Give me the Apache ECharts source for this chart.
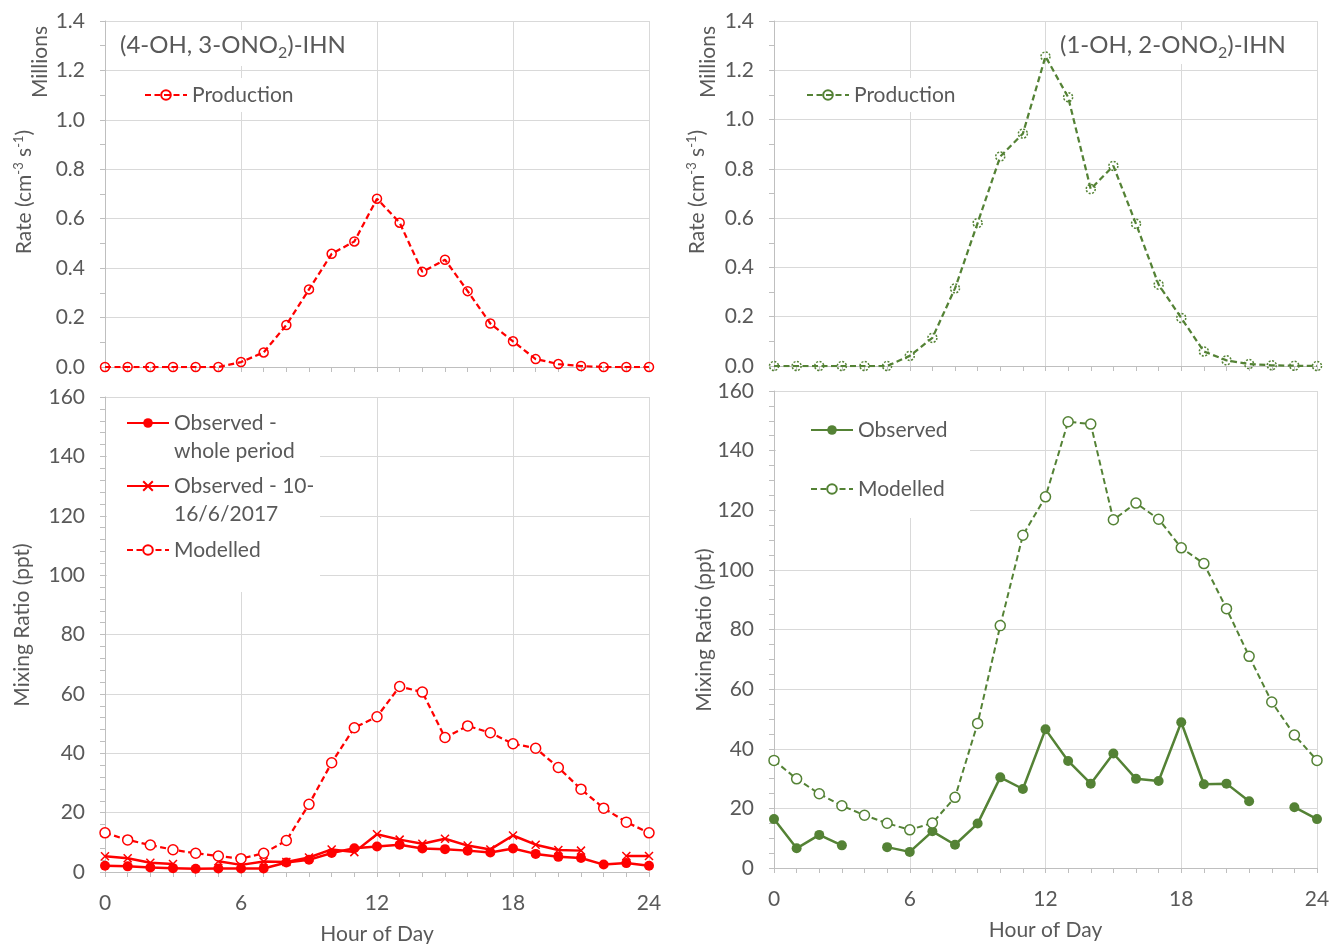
<!DOCTYPE html>
<html>
<head>
<meta charset="utf-8">
<script src="https://cdn.jsdelivr.net/npm/echarts@6/dist/echarts.min.js"></script>
<style>
  html, body { margin: 0; padding: 0; background: #ffffff; }
  #chart { width: 1331px; height: 944px; }
</style>
</head>
<body>
<div id="chart"></div>
<script>
// Hour of day (0-24)
const hours = [0, 1, 2, 3, 4, 5, 6, 7, 8, 9, 10, 11, 12, 13, 14, 15, 16, 17, 18, 19, 20, 21, 22, 23, 24];

// (4-OH, 3-ONO2)-IHN production rate, millions cm-3 s-1
const prod43 = [0, 0, 0, 0, 0, 0, 0.020, 0.059, 0.170, 0.314, 0.458, 0.508, 0.681, 0.584, 0.385, 0.434, 0.307, 0.176, 0.104, 0.032, 0.012, 0.004, 0, 0, 0];
// (4-OH, 3-ONO2)-IHN mixing ratios, ppt
const obsWhole43 = [2.1, 1.9, 1.5, 1.3, 1.1, 1.2, 1.2, 1.2, 3.2, 4.1, 6.4, 8.0, 8.6, 9.2, 7.9, 7.7, 7.2, 6.6, 7.9, 6.1, 5.1, 4.7, 2.5, 3.0, 2.1];
const obsWeek43 = [5.3, 4.6, 3.1, 2.7, null, 3.6, 2.4, 3.5, 3.4, 4.9, 7.6, 6.7, 12.7, 10.9, 9.5, 11.2, 8.9, 7.6, 12.3, 9.2, 7.4, 7.2, null, 5.4, 5.4];
const model43 = [13.2, 10.8, 9.1, 7.5, 6.3, 5.4, 4.5, 6.3, 10.6, 22.8, 36.8, 48.6, 52.3, 62.5, 60.6, 45.3, 49.2, 46.9, 43.2, 41.7, 35.2, 27.9, 21.5, 16.8, 13.2];

// (1-OH, 2-ONO2)-IHN production rate, millions cm-3 s-1
const prod12 = [0, 0, 0, 0, 0, 0, 0.041, 0.114, 0.315, 0.580, 0.850, 0.943, 1.256, 1.091, 0.718, 0.812, 0.577, 0.330, 0.195, 0.059, 0.023, 0.008, 0.003, 0.001, 0];
// (1-OH, 2-ONO2)-IHN mixing ratios, ppt
const obs12 = [16.4, 6.6, 11.1, 7.6, null, 7.0, 5.4, 12.3, 7.8, 14.9, 30.4, 26.5, 46.5, 35.9, 28.3, 38.4, 29.9, 29.2, 48.9, 28.1, 28.3, 22.4, null, 20.4, 16.4];
const model12 = [36.1, 29.9, 24.9, 20.9, 17.7, 15.0, 12.8, 15.1, 23.7, 48.5, 81.3, 111.6, 124.5, 149.7, 148.9, 116.8, 122.4, 117.0, 107.4, 102.1, 87.0, 71.0, 55.7, 44.6, 36.1];

// Tick labels of the hour axis
const hourTicks = [0, 6, 12, 18, 24];

const RED = '#ff0000';
const GREEN = '#548235';
const TXT = '#595959';
const FONT = 'Lato';
const FS = 21;

const pairs = (vals) => hours.map((h, i) => [h, vals[i] === null ? '-' : vals[i]]);

function xAxisFor(gridIndex, withLabels) {
  return {
    type: 'value', gridIndex, min: 0, max: 24, interval: 6,
    axisLine: { show: true, onZero: false, lineStyle: { color: '#bfbfbf', width: 1 } },
    axisTick: { show: true, length: 5, lineStyle: { color: '#bfbfbf' } },
    minorTick: { show: true, splitNumber: 6, length: 5, lineStyle: { color: '#bfbfbf' } },
    splitLine: { show: true, lineStyle: { color: '#d9d9d9', width: 1 } },
    axisLabel: {
      show: withLabels, margin: 21, color: TXT, fontFamily: FONT, fontSize: FS,
      formatter: (v) => hourTicks.includes(v) ? String(v) : ''
    },
    name: withLabels ? 'Hour of Day' : '',
    nameLocation: 'middle', nameGap: 52,
    nameTextStyle: { color: TXT, fontFamily: FONT, fontSize: FS }
  };
}

function yAxisFor(gridIndex, max, interval, minorSplit, decimals) {
  return {
    type: 'value', gridIndex, min: 0, max, interval,
    axisLine: { show: true, lineStyle: { color: '#bfbfbf', width: 1 } },
    axisTick: { show: true, length: 5, lineStyle: { color: '#bfbfbf' } },
    minorTick: { show: true, splitNumber: minorSplit, length: 5, lineStyle: { color: '#bfbfbf' } },
    splitLine: { show: true, lineStyle: { color: '#d9d9d9', width: 1 } },
    axisLabel: {
      margin: 20, color: TXT, fontFamily: FONT, fontSize: FS,
      formatter: (v) => v.toFixed(decimals)
    }
  };
}

const crossPath = 'path://M0,0L10,10M0,10L10,0';

const series = [
  {
    name: 'Production', type: 'line', xAxisIndex: 0, yAxisIndex: 0, data: pairs(prod43),
    symbol: 'circle', symbolSize: 9,
    lineStyle: { color: RED, width: 2.25, type: [6, 3.5] },
    itemStyle: { color: 'rgba(255,255,255,0)', borderColor: RED, borderWidth: 1.5 }
  },
  {
    name: 'Observed -\nwhole period', type: 'line', xAxisIndex: 1, yAxisIndex: 1, data: pairs(obsWhole43),
    symbol: 'circle', symbolSize: 10,
    lineStyle: { color: RED, width: 2.5 },
    itemStyle: { color: RED, borderWidth: 0 }
  },
  {
    name: 'Observed - 10-\n16/6/2017', type: 'line', xAxisIndex: 1, yAxisIndex: 1, data: pairs(obsWeek43),
    symbol: crossPath, symbolSize: 8,
    lineStyle: { color: RED, width: 2.5 },
    itemStyle: { color: RED, borderColor: RED, borderWidth: 1.5 }
  },
  {
    name: 'Modelled', type: 'line', xAxisIndex: 1, yAxisIndex: 1, data: pairs(model43),
    symbol: 'circle', symbolSize: 10,
    lineStyle: { color: RED, width: 2.25, type: [6, 3.5] },
    itemStyle: { color: '#ffffff', borderColor: RED, borderWidth: 1.5 }
  },
  {
    name: 'Production ', type: 'line', xAxisIndex: 2, yAxisIndex: 2, data: pairs(prod12),
    symbol: 'circle', symbolSize: 9,
    lineStyle: { color: GREEN, width: 2.25, type: [6, 3.5] },
    itemStyle: { color: 'rgba(255,255,255,0)', borderColor: GREEN, borderWidth: 1.5, borderType: [2, 1.5] }
  },
  {
    name: 'Observed', type: 'line', xAxisIndex: 3, yAxisIndex: 3, data: pairs(obs12),
    symbol: 'circle', symbolSize: 10,
    lineStyle: { color: GREEN, width: 2.5 },
    itemStyle: { color: GREEN, borderWidth: 0 }
  },
  {
    name: 'Modelled ', type: 'line', xAxisIndex: 3, yAxisIndex: 3, data: pairs(model12),
    symbol: 'circle', symbolSize: 10,
    lineStyle: { color: GREEN, width: 2, type: [6, 3.5] },
    itemStyle: { color: '#ffffff', borderColor: GREEN, borderWidth: 1.5 }
  }
].map((s) => Object.assign({ showSymbol: true, animation: false, connectNulls: false, emphasis: { disabled: true } }, s));

// One legend per entry so each entry sits exactly where it belongs.
// Two-line names get a blank leading line so the icon lines up with the first line.
const LH = 28;
function legendAt(name, left, firstLineY, twoLines) {
  return {
    data: [name], left, top: twoLines ? firstLineY - 1.5 * LH : firstLineY - LH / 2,
    orient: 'vertical', padding: 0, itemWidth: 42, itemHeight: 12, selectedMode: false,
    formatter: (n) => (twoLines ? ' \n' : '') + n.trim(),
    textStyle: { color: TXT, fontFamily: FONT, fontSize: FS, lineHeight: LH }
  };
}

const legends = [
  legendAt('Production', 144, 95, false),
  legendAt('Observed -\nwhole period', 126, 423, true),
  legendAt('Observed - 10-\n16/6/2017', 126, 486, true),
  legendAt('Modelled', 126, 550, false),
  legendAt('Production ', 806, 95, false),
  legendAt('Observed', 810, 430, false),
  legendAt('Modelled ', 810, 489, false)
];

const whiteBox = (x, y, w, h) => ({ type: 'rect', z: 1, shape: { x, y, width: w, height: h }, style: { fill: '#ffffff' }, silent: true });

const rich = {
  a: { fill: TXT, fontFamily: FONT, fontSize: FS },
  sup: { fill: TXT, fontFamily: FONT, fontSize: 13, padding: [0, 0, 10, 0] },
  t: { fill: TXT, fontFamily: FONT, fontSize: 24 },
  sub: { fill: TXT, fontFamily: FONT, fontSize: 16, padding: [16, 0, 0, 0] }
};
const label = (x, y, text, rotated, align) => ({
  type: 'text', z: 10, x, y, rotation: rotated ? Math.PI / 2 : 0, silent: true,
  style: { text, rich, fill: TXT, fontFamily: FONT, fontSize: FS, align: align || 'center', verticalAlign: 'middle' }
});
const rateName = '{a|Rate (cm}{sup|-3}{a| s}{sup|-1}{a|)}';

const graphic = [
  whiteBox(112, 30, 240, 36),
  whiteBox(138, 78, 162, 34),
  whiteBox(107, 398, 213, 194),
  whiteBox(1052, 30, 240, 34),
  whiteBox(800, 78, 162, 34),
  whiteBox(776, 392, 194, 126),
  label(120, 45, '{t|(4-OH, 3-ONO}{sub|2}{t|)-IHN}', false, 'left'),
  label(1060, 45, '{t|(1-OH, 2-ONO}{sub|2}{t|)-IHN}', false, 'left'),
  label(40, 62, '{a|Millions}', true),
  label(24, 192, rateName, true),
  label(22, 625, '{a|Mixing Ratio (ppt)}', true),
  label(708, 62, '{a|Millions}', true),
  label(697, 192, rateName, true),
  label(704, 630, '{a|Mixing Ratio (ppt)}', true)
];

const chart = echarts.init(document.getElementById('chart'), null, { renderer: 'canvas' });
chart.setOption({
  animation: false,
  backgroundColor: '#ffffff',
  grid: [
    { left: 105, top: 21, width: 544, height: 346, outerBoundsMode: 'none' },
    { left: 105, top: 397, width: 544, height: 475, outerBoundsMode: 'none' },
    { left: 774, top: 21, width: 543, height: 345, outerBoundsMode: 'none' },
    { left: 774, top: 391, width: 543, height: 477, outerBoundsMode: 'none' }
  ],
  xAxis: [xAxisFor(0, false), xAxisFor(1, true), xAxisFor(2, false), xAxisFor(3, true)],
  yAxis: [
    yAxisFor(0, 1.4, 0.2, 2, 1),
    yAxisFor(1, 160, 20, 5, 0),
    yAxisFor(2, 1.4, 0.2, 2, 1),
    yAxisFor(3, 160, 20, 4, 0)
  ],
  legend: legends,
  series,
  graphic
});
</script>
</body>
</html>
